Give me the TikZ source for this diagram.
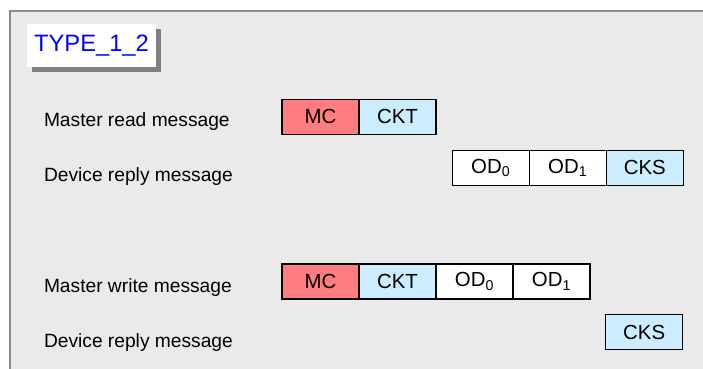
\documentclass[tikz,border=0pt]{standalone}
\usepackage{fontspec}
\setmainfont{Liberation Sans}
\usetikzlibrary{positioning,shadows}
\definecolor{mcred}{HTML}{FF7C80}
\definecolor{ckblue}{HTML}{CCECFF}
\definecolor{panel}{HTML}{EAEAEA}
\definecolor{rimgray}{HTML}{8C8C8C}

\begin{document}
\begin{tikzpicture}[
  x=0.75pt,y=-0.75pt,
  every node/.style={inner sep=0pt,outer sep=0pt},
  msglabel/.style={anchor=base west,font=\fontsize{14.4}{17}\selectfont},
  field/.style={draw=black,line width=1.1pt,
    minimum width=57.75pt,minimum height=26.25pt,
    font=\fontsize{15.3}{18}\selectfont},
  mcfield/.style={field,fill=mcred},
  ckfield/.style={field,fill=ckblue},
  odfield/.style={field,fill=white},
  titlebox/.style={fill=white,text=blue,
    minimum width=96.75pt,minimum height=32.25pt,
    font=\fontsize{17.8}{21}\selectfont,
    drop shadow={shadow xshift=3.75pt,shadow yshift=-3.4pt,
      fill=black!50,opacity=1}}
]
  \useasboundingbox (0,0) rectangle (703,368);
  \clip (0,0) rectangle (703,368);

  % 枠
  \fill[white] (0,0) rectangle (703,368);
  \draw[rimgray,line width=1.5pt,fill=panel]
    (9.5,10.5) rectangle (720,390);

  % 見出し
  \node[titlebox] (title) at (91.5,45.5) {TYPE\_1\_2};

  % Master read
  \node[msglabel] (readlbl) at (44,126.7) {Master read message};
  \node[mcfield,anchor=west] (readmc) at (282,116.8) {MC};
  \node[ckfield,right=0pt of readmc] (readckt) {CKT};

  % Device reply
  \node[msglabel] (replylbl) at (44,181.7) {Device reply message};
  \node[odfield,anchor=west] (replyodA) at (452.3,167.8)
    {OD\textsubscript{0}};
  \node[odfield,right=0pt of replyodA] (replyodB)
    {OD\textsubscript{1}};
  \node[ckfield,right=0pt of replyodB] (replycks) {CKS};

  % Master write
  \node[msglabel] (writelbl) at (44,292.7) {Master write message};
  \node[mcfield,anchor=west] (writemc) at (282,281.3) {MC};
  \node[ckfield,right=0pt of writemc] (writeckt) {CKT};
  \node[odfield,right=0pt of writeckt] (writeodA)
    {OD\textsubscript{0}};
  \node[odfield,right=0pt of writeodA] (writeodB)
    {OD\textsubscript{1}};

  % Device reply
  \node[msglabel] (ackl) at (44,347) {Device reply message};
  \node[ckfield,anchor=west] (ackcks) at (605.7,332) {CKS};
\end{tikzpicture}
\end{document}
